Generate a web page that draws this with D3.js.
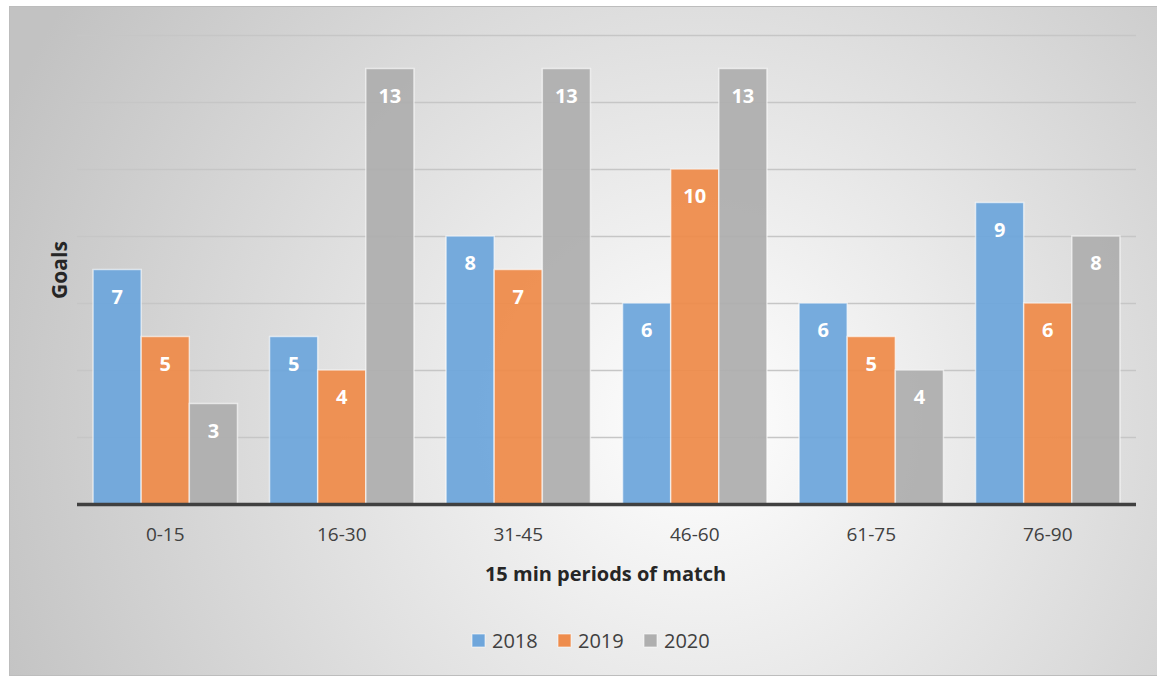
<!DOCTYPE html>
<html>
<head>
<meta charset="utf-8">
<script src="https://cdn.jsdelivr.net/npm/d3@7"></script>
<style>
  body { margin: 0; background: #fff; }
  text { font-family: "Open Sans", "Noto Sans", sans-serif; }
</style>
</head>
<body>
<svg id="drawing_region"></svg>
<script>
const periods = ['0-15', '16-30', '31-45', '46-60', '61-75', '76-90'];
const years = ['2018', '2019', '2020'];
const goals2018 = [7, 5, 8, 6, 6, 9];
const goals2019 = [5, 4, 7, 10, 5, 6];
const goals2020 = [3, 13, 13, 13, 4, 8];
const yTicks = [0, 2, 4, 6, 8, 10, 12, 14];

const colors = ['#6fa6db', '#ee8c4c', '#afafaf'];

const width = 1157, height = 677;
const margin = {top: 35, right: 21, bottom: 173, left: 77};
const inner_width = width - margin.left - margin.right;
const inner_height = height - margin.top - margin.bottom;

const series = [goals2018, goals2019, goals2020];
const data = periods.map((p, i) => ({
    period: p,
    values: years.map((y, j) => ({year: y, value: series[j][i]}))
}));

const svg = d3.select('#drawing_region')
    .attr('width', width)
    .attr('height', height);

const defs = svg.append('defs');
const grad = defs.append('radialGradient')
    .attr('id', 'bg')
    .attr('gradientUnits', 'userSpaceOnUse')
    .attr('cx', 700).attr('cy', 420).attr('r', 760);
grad.append('stop').attr('offset', '0%').attr('stop-color', '#ffffff');
grad.append('stop').attr('offset', '100%').attr('stop-color', '#c2c2c2');

svg.append('rect')
    .attr('x', 9.5).attr('y', 6.5)
    .attr('width', width - 9).attr('height', height - 8)
    .attr('fill', 'url(#bg)')
    .attr('stroke', '#bdbdbd');

const chart = svg.append('g')
    .attr('transform', `translate(${margin.left}, ${margin.top})`);

const xscale = d3.scaleBand()
    .domain(periods)
    .range([0, inner_width])
    .paddingInner(0.182)
    .paddingOuter(0.091);

const inner = d3.scaleBand()
    .domain(years)
    .range([0, xscale.bandwidth()]);

const yscale = d3.scaleLinear()
    .domain([0, 14])
    .range([inner_height, 0]);

// gridlines
chart.append('g')
    .selectAll('line')
    .data(yTicks.filter(d => d > 0))
    .join('line')
    .attr('x1', 0)
    .attr('x2', inner_width)
    .attr('y1', d => Math.round(yscale(d)) + 0.5)
    .attr('y2', d => Math.round(yscale(d)) + 0.5)
    .attr('stroke', '#c6c6c6')
    .attr('stroke-width', 1.5);

// bars
const groups = chart.selectAll('.group')
    .data(data)
    .join('g')
    .attr('class', 'group')
    .attr('transform', d => `translate(${xscale(d.period)}, 0)`);

groups.selectAll('rect')
    .data(d => d.values)
    .join('rect')
    .attr('x', d => inner(d.year))
    .attr('y', d => yscale(d.value))
    .attr('width', inner.bandwidth())
    .attr('height', d => inner_height - yscale(d.value))
    .attr('fill', (d, i) => colors[i])
    .attr('fill-opacity', 0.95)
    .attr('stroke', 'rgba(255,255,255,0.6)')
    .attr('stroke-width', 1.5);

groups.selectAll('.label')
    .data(d => d.values)
    .join('text')
    .attr('class', 'label')
    .attr('x', d => inner(d.year) + inner.bandwidth() / 2)
    .attr('y', d => yscale(d.value) + 34)
    .attr('text-anchor', 'middle')
    .attr('fill', '#fff')
    .attr('font-size', 20)
    .attr('font-weight', 'bold')
    .text(d => d.value);

// x axis
const xaxis = d3.axisBottom(xscale).tickSize(0).tickPadding(24);
const xaxis_group = chart.append('g')
    .attr('transform', `translate(0, ${inner_height})`)
    .call(xaxis);
xaxis_group.select('.domain').remove();
xaxis_group.selectAll('text')
    .attr('font-size', 19)
    .attr('fill', '#404040')
    .attr('font-family', '"Open Sans", sans-serif');

chart.append('line')
    .attr('x1', 0).attr('x2', inner_width)
    .attr('y1', inner_height + 0.5).attr('y2', inner_height + 0.5)
    .attr('stroke', '#404040')
    .attr('stroke-width', 3.5);

// axis titles
svg.append('text')
    .attr('text-anchor', 'middle')
    .attr('transform', `translate(${margin.left + inner_width / 2 - 1}, 581)`)
    .attr('font-size', 20)
    .attr('font-weight', 'bold')
    .attr('fill', '#262626')
    .text('15 min periods of match');

svg.append('text')
    .attr('text-anchor', 'middle')
    .attr('transform', `translate(67, 270) rotate(-90)`)
    .attr('font-size', 21)
    .attr('font-weight', 'bold')
    .attr('fill', '#262626')
    .text('Goals');

// legend
const legend = svg.append('g')
    .attr('transform', 'translate(472, 641)');
const items = legend.selectAll('g')
    .data(years)
    .join('g')
    .attr('transform', (d, i) => `translate(${i * 86}, 0)`);
items.append('rect')
    .attr('x', 0).attr('y', -7)
    .attr('width', 13).attr('height', 13)
    .attr('fill', (d, i) => colors[i])
    .attr('stroke', 'rgba(255,255,255,0.6)');
items.append('text')
    .attr('x', 20)
    .attr('y', 7)
    .attr('font-size', 20)
    .attr('fill', '#404040')
    .text(d => d);
</script>
</body>
</html>
